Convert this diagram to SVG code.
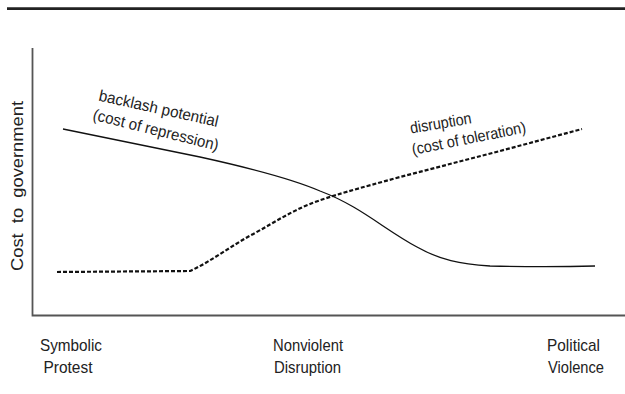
<svg xmlns="http://www.w3.org/2000/svg" width="625" height="394" viewBox="0 0 625 394">
<style>
.lbl{font-family:"Liberation Sans",Arial,sans-serif;font-size:17px;fill:#222;text-anchor:middle}
.ann{font-family:"Liberation Sans",Arial,sans-serif;font-size:16px;fill:#222}
.axis{stroke:#555;stroke-width:1.8;fill:none}
.solid{stroke:#111;stroke-width:1.3;fill:none}
.dash{stroke:#111;stroke-width:2.2;fill:none;stroke-dasharray:4 2}
</style>
<rect width="625" height="394" fill="#fff"/>
<line x1="7" y1="8.7" x2="625" y2="8.7" stroke="#222" stroke-width="2.8"/>
<g id="axes">
<polyline class="axis" points="32.5,48 32.5,315.5 625,315.5"/>
</g>
<g id="y-label">
<text class="lbl" xml:space="preserve" style="white-space:pre" transform="translate(23,186) rotate(-90)" textLength="170" lengthAdjust="spacingAndGlyphs">Cost  to  government</text>
</g>
<g id="connectors">
<path id="backlash-curve" class="solid" d="M63,129 L200,157 C250,168 290,178 320,191 C360,206 385,230 417,247 C440,260 460,264 490,266 C530,267 560,267 595,266"/>
<path id="disruption-curve" class="dash" d="M57,272 L190,271 C212,261 232,245 255,233 C275,222 290,212 310,204 C330,196 360,188 400,177 L500,151 L582,129"/>
</g>
<g id="backlash-label">
<text class="ann" transform="translate(98,100.5) rotate(12.5)" textLength="122" lengthAdjust="spacingAndGlyphs">backlash potential</text>
<text class="ann" transform="translate(92,119.5) rotate(14)" textLength="129" lengthAdjust="spacingAndGlyphs">(cost of repression)</text>
</g>
<g id="disruption-label">
<text class="ann" transform="translate(411,133.5) rotate(-9.5)" textLength="62" lengthAdjust="spacingAndGlyphs">disruption</text>
<text class="ann" transform="translate(413,155) rotate(-11.3)" textLength="116" lengthAdjust="spacingAndGlyphs">(cost of toleration)</text>
</g>
<g id="symbolic-protest">
<text class="lbl" x="71" y="351" textLength="62" lengthAdjust="spacingAndGlyphs">Symbolic</text>
<text class="lbl" x="68" y="373" textLength="49" lengthAdjust="spacingAndGlyphs">Protest</text>
</g>
<g id="nonviolent-disruption">
<text class="lbl" x="308" y="351" textLength="70" lengthAdjust="spacingAndGlyphs">Nonviolent</text>
<text class="lbl" x="307.5" y="373" textLength="67" lengthAdjust="spacingAndGlyphs">Disruption</text>
</g>
<g id="political-violence">
<text class="lbl" x="573.5" y="351" textLength="53" lengthAdjust="spacingAndGlyphs">Political</text>
<text class="lbl" x="576" y="373" textLength="56" lengthAdjust="spacingAndGlyphs">Violence</text>
</g>
</svg>
